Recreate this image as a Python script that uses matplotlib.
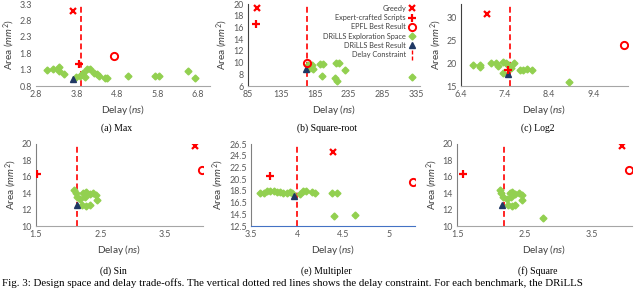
import matplotlib
matplotlib.use("Agg")
import matplotlib.pyplot as plt
from matplotlib.lines import Line2D

plt.rcParams['font.family'] = ['Lato', 'DejaVu Sans']
plt.rcParams['mathtext.fontset'] = 'custom'
plt.rcParams['mathtext.rm'] = 'Lato'
plt.rcParams['mathtext.it'] = 'Lato:italic'

# ---- data ----
# (a) Max
max_greedy = (3.71, 3.09)
max_expert = (3.86, 1.46)
max_epfl = (4.73, 1.70)
max_drills = (3.71, 1.02)
max_constraint = 3.9
max_space_x = [3.06, 3.23, 3.36, 3.36, 3.49, 3.79, 3.89, 3.93, 3.97, 4.02, 4.07, 4.13,
               4.24, 4.30, 4.35, 4.50, 4.56, 5.08, 5.74, 5.84, 6.56, 6.73]
max_space_y = [1.30, 1.31, 1.38, 1.26, 1.17, 1.06, 1.10, 1.17, 1.21, 1.08, 1.33, 1.31,
               1.19, 1.16, 1.10, 1.03, 1.05, 1.11, 1.10, 1.10, 1.25, 1.04]

# (b) Square-root
sqrt_greedy = (98.4, 19.3)
sqrt_expert = (97.4, 16.6)
sqrt_epfl = (172.8, 9.98)
sqrt_drills = (171.8, 8.85)
sqrt_constraint = 173.5
sqrt_space_x = [175.2, 180.2, 177.7, 181.7, 192.6, 196.6, 195.1, 216.4, 221.3, 215.4,
                217.4, 229.8, 329.0]
sqrt_space_y = [9.58, 9.58, 9.0, 8.85, 9.7, 9.7, 7.7, 10.0, 9.98, 7.3, 6.9, 8.7, 7.5]

# (c) Log2
log2_greedy = (6.98, 30.9)
log2_expert = (7.47, 18.5)
log2_epfl = (10.10, 23.95)
log2_drills = (7.46, 17.6)
log2_constraint = 7.51
log2_space_x = [6.68, 6.83, 6.83, 7.08, 7.19, 7.23, 7.36, 7.42, 7.36, 7.47, 7.53, 7.61,
                7.74, 7.80, 7.89, 8.00, 8.85]
log2_space_y = [19.6, 19.6, 19.2, 20.1, 20.1, 19.4, 20.2, 20.1, 17.9, 19.6, 18.9, 20.1,
                18.6, 18.6, 18.7, 18.6, 15.95]

# (d) Sin
sin_greedy = (3.97, 19.76)
sin_expert = (1.51, 16.34)
sin_epfl = (4.07, 16.83)
sin_drills = (2.14, 12.56)
sin_constraint = 2.14
sin_space_x = [2.09, 2.12, 2.14, 2.19, 2.23, 2.28, 2.33, 2.39, 2.43, 2.44, 2.22, 2.28,
               2.33, 2.26]
sin_space_y = [14.39, 13.98, 13.5, 13.33, 13.98, 14.1, 13.86, 13.98, 13.78, 13.17, 12.56,
               12.44, 12.6, 13.5]

# (e) Multipler
mult_greedy = (4.39, 25.19)
mult_expert = (3.71, 21.09)
mult_epfl = (5.26, 19.95)
mult_drills = (3.97, 17.62)
mult_constraint = 4.0
mult_space_x = [3.60, 3.64, 3.67, 3.71, 3.75, 3.78, 3.82, 3.85, 3.89, 3.92, 3.95, 4.03,
                4.06, 4.10, 4.16, 4.19, 4.38, 4.43, 4.40, 4.63]
mult_space_y = [18.1, 18.2, 18.4, 18.5, 18.4, 18.3, 18.3, 18.2, 18.1, 18.3, 18.2, 18.0,
                18.4, 18.5, 18.3, 18.1, 18.2, 18.2, 14.26, 14.38]

# (f) Square
sq_greedy = (3.95, 19.76)
sq_expert = (1.59, 16.34)
sq_epfl = (4.05, 16.83)
sq_drills = (2.17, 12.56)
sq_constraint = 2.20
sq_space_x = [2.14, 2.16, 2.19, 2.24, 2.29, 2.32, 2.36, 2.42, 2.46, 2.47, 2.26, 2.31,
              2.36, 2.30, 2.78]
sq_space_y = [14.39, 13.98, 13.5, 13.33, 13.98, 14.1, 13.86, 13.98, 13.78, 13.17, 12.56,
              12.44, 12.6, 13.5, 10.94]

RED = '#FF0000'
GREEN = '#92D050'
NAVY = '#1F3864'
TICK = '#595959'

W, H = 640, 289
fig = plt.figure(figsize=(6.4, 2.89), dpi=100)


def make_axes(left, right, top, bottom):
    return fig.add_axes([left / W, 1 - bottom / H, (right - left) / W, (bottom - top) / H])


def panel(ax, greedy, expert, epfl, drills, constraint, sx, sy, xlim, ylim, xticks, yticks,
          xfmt, yfmt, caption, cap_y, left_spine='#404040', bottom_spine='#A6A6A6'):
    ax.axvline(constraint, color=RED, lw=1.2, ls=(0, (3.5, 2)), zorder=2)
    ax.plot(sx, sy, 'D', color=GREEN, ms=3.5, mec=GREEN, zorder=3)
    ax.plot(*drills, '^', color=NAVY, ms=5, zorder=4)
    ax.plot(*greedy, 'x', color=RED, ms=4.8, mew=1.6, zorder=5)
    ax.plot(*expert, '+', color=RED, ms=5.8, mew=1.6, zorder=5)
    ax.plot(*epfl, 'o', mfc='none', mec=RED, ms=5.2, mew=1.4, zorder=5)
    ax.set_xlim(*xlim)
    ax.set_ylim(*ylim)
    ax.set_xticks(xticks)
    ax.set_yticks(yticks)
    ax.set_xticklabels([xfmt.format(v) for v in xticks])
    ax.set_yticklabels([yfmt.format(v) for v in yticks])
    ax.tick_params(length=0, labelsize=6.4, colors=TICK, pad=3)
    for s in ['top', 'right']:
        ax.spines[s].set_visible(False)
    if left_spine is None:
        ax.spines['left'].set_visible(False)
    else:
        ax.spines['left'].set_color(left_spine)
        ax.spines['left'].set_linewidth(0.8)
    ax.spines['bottom'].set_color(bottom_spine)
    ax.spines['bottom'].set_linewidth(0.8)
    ax.set_xlabel(r'Delay ($\mathit{ns}$)', fontsize=7.2, color='#404040', labelpad=3)
    ax.set_ylabel(r'Area ($\mathit{mm}^2$)', fontsize=7.2, color='#404040', labelpad=2)
    bb = ax.get_position()
    fig.text(bb.x0 + bb.width / 2 - 0.01, 1 - cap_y / H, caption, ha='center', va='center',
             fontsize=7, family='Liberation Serif')


ax_a = make_axes(36, 210, 4, 86)
panel(ax_a, max_greedy, max_expert, max_epfl, max_drills, max_constraint, max_space_x, max_space_y,
      (2.8, 7.1), (0.8, 3.3), [2.8, 3.8, 4.8, 5.8, 6.8], [0.8, 1.3, 1.8, 2.3, 2.8, 3.3],
      '{:.1f}', '{:.1f}', '(a) Max', 128, left_spine=None)

ax_b = make_axes(247.7, 420, 4, 86)
panel(ax_b, sqrt_greedy, sqrt_expert, sqrt_epfl, sqrt_drills, sqrt_constraint, sqrt_space_x,
      sqrt_space_y, (85, 341), (6, 20), [85, 135, 185, 235, 285, 335], [6, 8, 10, 12, 14, 16, 18, 20],
      '{:.0f}', '{:.0f}', '(b) Square-root', 128)

ax_c = make_axes(461, 628, 4, 86)
panel(ax_c, log2_greedy, log2_expert, log2_epfl, log2_drills, log2_constraint, log2_space_x,
      log2_space_y, (6.4, 10.19), (15, 33), [6.4, 7.4, 8.4, 9.4], [15, 20, 25, 30],
      '{:.1f}', '{:.0f}', '(c) Log2', 128)

ax_d = make_axes(36, 203, 144, 226)
panel(ax_d, sin_greedy, sin_expert, sin_epfl, sin_drills, sin_constraint, sin_space_x, sin_space_y,
      (1.5, 4.09), (10, 20), [1.5, 2.5, 3.5], [10, 12, 14, 16, 18, 20],
      '{:.1f}', '{:.0f}', '(d) Sin', 271, left_spine='#808080')

ax_e = make_axes(251, 415, 144, 226)
panel(ax_e, mult_greedy, mult_expert, mult_epfl, mult_drills, mult_constraint, mult_space_x,
      mult_space_y, (3.5, 5.28), (12.5, 26.5), [3.5, 4, 4.5, 5],
      [12.5, 14.5, 16.5, 18.5, 20.5, 22.5, 24.5, 26.5],
      '{:g}', '{:.1f}', '(e) Multipler', 271, left_spine='#808080', bottom_spine='#4472C4')

ax_f = make_axes(457, 632, 144, 226)
panel(ax_f, sq_greedy, sq_expert, sq_epfl, sq_drills, sq_constraint, sq_space_x, sq_space_y,
      (1.5, 4.1), (10, 20), [1.5, 2.5, 3.5], [10, 12, 14, 16, 18, 20],
      '{:.1f}', '{:.0f}', '(f) Square', 271, left_spine='#808080')

handles = [
    Line2D([], [], ls='none', marker='x', color=RED, ms=4.8, mew=1.6),
    Line2D([], [], ls='none', marker='+', color=RED, ms=5.8, mew=1.6),
    Line2D([], [], ls='none', marker='o', mfc='none', mec=RED, ms=5.2, mew=1.4),
    Line2D([], [], ls='none', marker='D', color=GREEN, ms=3.5),
    Line2D([], [], ls='none', marker='^', color=NAVY, ms=5),
    Line2D([], [], ls='none', marker='$\u00a6$', color=RED, ms=7),
]
labels = ['Greedy', 'Expert-crafted Scripts', 'EPFL Best Result', 'DRiLLS Exploration Space',
          'DRiLLS Best Result', 'Delay Constraint']
ax_b.legend(handles, labels, loc='upper right', bbox_to_anchor=(1.0, 1.05), markerfirst=False,
            frameon=False, fontsize=5.3, labelspacing=0.3, handlelength=0.8, handletextpad=0.4,
            borderpad=0.2, labelcolor='#404040')

fig.text(0.003, 1 - 287.5 / H, 'Fig. 3: Design space and delay trade-offs. The vertical dotted red lines '
         'shows the delay constraint. For each benchmark, the DRiLLS', ha='left', va='bottom',
         fontsize=7.8, family='Liberation Serif')

fig.savefig('out.png', dpi=100)
